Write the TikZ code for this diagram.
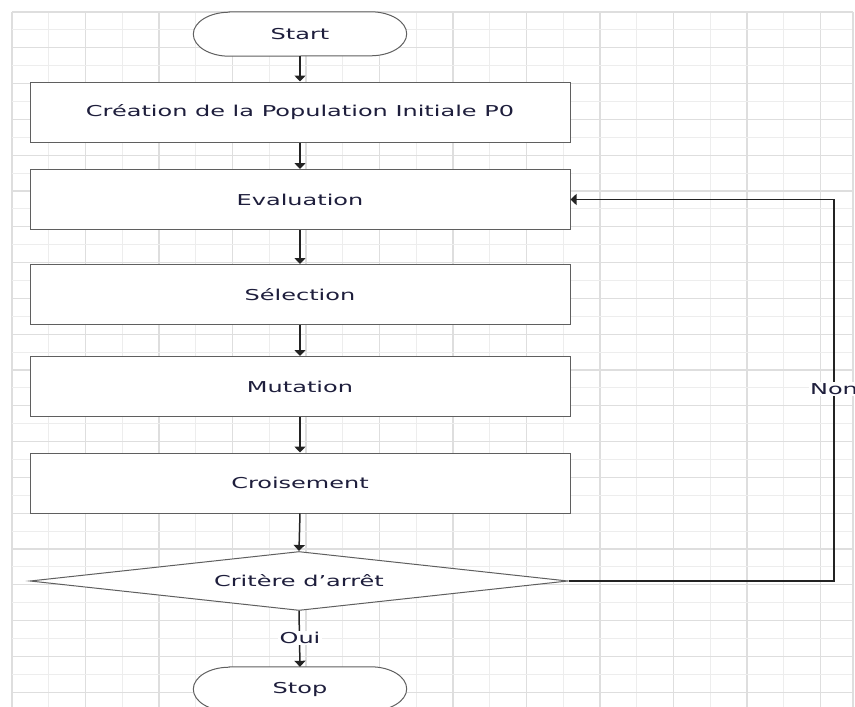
\documentclass[tikz,border=0pt]{standalone}
\usepackage{fontspec}
\setmainfont{DejaVu Sans}
\usetikzlibrary{arrows.meta,shapes.geometric}

\definecolor{gridminor}{RGB}{237,237,237}
\definecolor{gridmajor}{RGB}{222,222,222}
\definecolor{boxline}{RGB}{95,95,95}
\definecolor{txt}{RGB}{30,30,60}
\definecolor{wire}{RGB}{35,35,35}

% horizontally widened label text
\newcommand{\widetext}[1]{\scalebox{1.6}[1]{#1}}

\tikzset{
  labelfont/.style={text=txt, font=\fontsize{15}{18}\selectfont},
  procbox/.style={rectangle, draw=boxline, line width=1pt, fill=white,
    minimum width=540pt, minimum height=60pt, inner sep=0pt, labelfont},
  decision/.style={diamond, draw=boxline, line width=1pt, fill=white,
    minimum width=538pt, minimum height=59pt, aspect=9.1, inner sep=0pt, labelfont},
  terminal/.style={rectangle, minimum width=213pt, minimum height=44pt, inner sep=0pt},
  stadium/.style={draw=boxline, line width=1pt, fill=white},
  termtext/.style={inner sep=0pt, labelfont},
  flow/.style={draw=wire, line width=1.5pt, -{Triangle[width=11pt,length=6pt]}},
  link/.style={draw=wire, line width=1.5pt},
  edgelabel/.style={fill=white, inner sep=1.5pt, labelfont},
}

\begin{document}
\begin{tikzpicture}[x=1pt, y=-1pt]
  \useasboundingbox (0,0) rectangle (855,707);
  \clip (0,0) rectangle (855,707);
  \fill[white] (0,0) rectangle (855,707);

  % squared paper
  \foreach \k in {0,...,22} {
    \pgfmathsetmacro\gx{12+36.75*\k}
    \ifodd\k
      \draw[gridminor, line width=1pt] (\gx,12) -- (\gx,707);
    \else
      \draw[gridmajor, line width=1.3pt] (\gx,12) -- (\gx,707);
    \fi
  }
  \foreach \k in {0,...,39} {
    \pgfmathsetmacro\gy{12+17.9*\k}
    \ifodd\k
      \draw[gridminor, line width=1pt] (12,\gy) -- (853,\gy);
    \else
      \draw[gridmajor, line width=1.3pt] (12,\gy) -- (853,\gy);
    \fi
  }
  \draw[gridmajor, line width=1.3pt] (853,12) -- (853,707);

  % terminals (stadium outline with elliptic ends)
  \node[terminal] (start) at (300,34) {};
  \draw[stadium] ([xshift=36pt]start.north west) -- ([xshift=-36pt]start.north east)
    arc[start angle=90, end angle=-90, x radius=36pt, y radius=22pt]
    -- ([xshift=36pt]start.south west)
    arc[start angle=270, end angle=90, x radius=36pt, y radius=22pt] -- cycle;
  \node[termtext] (starttext) at (start.center) {\widetext{Start}};

  \node[terminal] (stop) at (300,689) {};
  \draw[stadium] ([xshift=36pt]stop.north west) -- ([xshift=-36pt]stop.north east)
    arc[start angle=90, end angle=-90, x radius=36pt, y radius=22pt]
    -- ([xshift=36pt]stop.south west)
    arc[start angle=270, end angle=90, x radius=36pt, y radius=22pt] -- cycle;
  \node[termtext] (stoptext) at (stop.center) {\widetext{Stop}};

  % process steps
  \node[procbox] (create) at (300,112)   {\widetext{Création de la Population Initiale P0}};
  \node[procbox] (eval)   at (300,199.5) {\widetext{Evaluation}};
  \node[procbox] (select) at (300,294.5) {\widetext{Sélection}};
  \node[procbox] (mutate) at (300,386.5) {\widetext{Mutation}};
  \node[procbox] (cross)  at (300,483)   {\widetext{Croisement}};
  \node[decision] (crit)  at (299,581)   {\widetext{Critère d’arrêt}};

  % main flow
  \draw[flow] (start.south) -- (create.north);
  \draw[flow] (create.south) -- (eval.north);
  \draw[flow] (eval.south) -- (select.north);
  \draw[flow] (select.south) -- (mutate.north);
  \draw[flow] (mutate.south) -- (cross.north);
  \draw[flow] (cross.south) -- (crit.north);
  \draw[flow] (crit.south) -- (stop.north);
  \node[edgelabel] (oui) at (300,638) {\widetext{Oui}};

  % loop back when the stop criterion is not met
  \coordinate (loopcorner) at (834,581);
  \draw[flow] (crit.east) -- (loopcorner) |- (eval.east);
  \node[edgelabel] (non) at (834,389) {\widetext{Non}};
\end{tikzpicture}
\end{document}
